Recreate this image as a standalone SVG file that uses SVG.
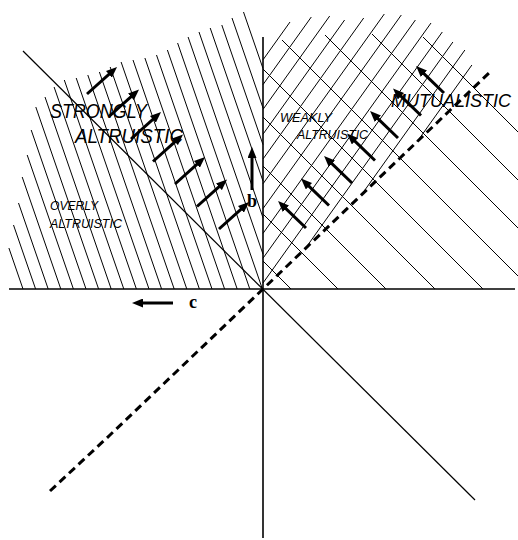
<svg xmlns="http://www.w3.org/2000/svg" width="518" height="540" viewBox="0 0 518 540">
<style>
.h{stroke:#000;stroke-width:1;fill:none}
.ax{stroke:#000;stroke-width:1.6;fill:none}
.dg{stroke:#000;stroke-width:1.2;fill:none}
.dash{stroke:#000;stroke-width:3;stroke-dasharray:8 5;fill:none}
.arr{stroke:#000;stroke-width:3;fill:none;marker-end:url(#ah)}
.lbl{font-family:"Liberation Sans",Arial,sans-serif;font-style:italic;fill:#000}
.big{font-size:20px}
.sm{font-size:13px}
.var{font-family:"Liberation Serif","Times New Roman",serif;font-weight:bold;font-size:18px;fill:#000}
</style>
<defs>
<marker id="ah" viewBox="0 0 11 9" refX="3" refY="4.5" markerWidth="11" markerHeight="9" markerUnits="userSpaceOnUse" orient="auto">
<path d="M0,0 L11,4.5 L0,9 z" fill="#000"/>
</marker>
</defs>
<rect width="518" height="540" fill="#fff"/>

<g id="hatch-altruistic">
<line class="h" x1="8.9" y1="248" x2="23" y2="289"/>
<line class="h" x1="13.5" y1="225" x2="35.6" y2="289"/>
<line class="h" x1="18.5" y1="203" x2="48.2" y2="289"/>
<line class="h" x1="22.2" y1="177" x2="60.8" y2="289"/>
<line class="h" x1="27.2" y1="155" x2="73.4" y2="289"/>
<line class="h" x1="31.2" y1="130" x2="86" y2="289"/>
<line class="h" x1="35.8" y1="107" x2="98.6" y2="289"/>
<line class="h" x1="45" y1="97" x2="111.2" y2="289"/>
<line class="h" x1="54.1" y1="87" x2="123.8" y2="289"/>
<line class="h" x1="64.3" y1="80" x2="136.4" y2="289"/>
<line class="h" x1="76.2" y1="78" x2="149" y2="289"/>
<line class="h" x1="87.8" y1="75" x2="161.6" y2="289"/>
<line class="h" x1="99.4" y1="72" x2="174.2" y2="289"/>
<line class="h" x1="110.2" y1="67" x2="186.8" y2="289"/>
<line class="h" x1="121.1" y1="62" x2="199.4" y2="289"/>
<line class="h" x1="133" y1="60" x2="212" y2="289"/>
<line class="h" x1="144.9" y1="58" x2="224.6" y2="289"/>
<line class="h" x1="156.5" y1="55" x2="237.2" y2="289"/>
<line class="h" x1="167.4" y1="50" x2="249.8" y2="289"/>
<line class="h" x1="177.6" y1="43" x2="262.4" y2="289"/>
<line class="h" x1="188.1" y1="37" x2="263" y2="254.2"/>
<line class="h" x1="199" y1="32" x2="263" y2="217.7"/>
<line class="h" x1="210.2" y1="28" x2="263" y2="181.1"/>
<line class="h" x1="221.8" y1="25" x2="263" y2="144.6"/>
<line class="h" x1="232" y1="18" x2="263" y2="108"/>
<line class="h" x1="243.5" y1="12" x2="263" y2="68.5"/>
</g>

<g id="hatch-weakly">
<line class="h" x1="290" y1="22" x2="263" y2="59.8"/>
<line class="h" x1="311.3" y1="17" x2="263" y2="84.6"/>
<line class="h" x1="329.7" y1="16" x2="263" y2="109.4"/>
<line class="h" x1="344.6" y1="20" x2="263" y2="134.2"/>
<line class="h" x1="363.7" y1="18" x2="263" y2="159"/>
<line class="h" x1="384.3" y1="14" x2="263" y2="183.8"/>
<line class="h" x1="401.3" y1="15" x2="263" y2="208.6"/>
<line class="h" x1="415.4" y1="20" x2="263" y2="233.4"/>
<line class="h" x1="431" y1="23" x2="263" y2="258.2"/>
<line class="h" x1="442.3" y1="32" x2="263" y2="283"/>
<line class="h" x1="452.9" y1="42" x2="305.4" y2="248.4"/>
<line class="h" x1="464.9" y1="50" x2="361.3" y2="195"/>
<line class="h" x1="471.9" y1="65" x2="417.1" y2="141.7"/>
</g>

<g id="hatch-mutualistic">
<line class="h" x1="263" y1="261" x2="291" y2="289"/>
<line class="h" x1="263" y1="214" x2="338" y2="289"/>
<line class="h" x1="263" y1="166" x2="386" y2="289"/>
<line class="h" x1="263" y1="117" x2="435" y2="289"/>
<line class="h" x1="263" y1="69" x2="483" y2="289"/>
<line class="h" x1="282" y1="40" x2="518" y2="276"/>
<line class="h" x1="325" y1="35" x2="518" y2="228"/>
<line class="h" x1="372" y1="34" x2="518" y2="180"/>
<line class="h" x1="423" y1="37" x2="518" y2="132"/>
</g>

<g id="axes">
<line class="ax" x1="9" y1="289" x2="515" y2="289"/>
<line class="ax" x1="263" y1="37" x2="263" y2="538"/>
<line class="dg" x1="23" y1="51" x2="475" y2="500"/>
<polyline class="dash" points="50,491 110,435 263,289 490,72"/>
</g>

<g id="arrows">
<line class="arr" x1="87" y1="94" x2="111.1" y2="72.3"/>
<line class="arr" x1="109" y1="116.5" x2="133.1" y2="94.8"/>
<line class="arr" x1="131" y1="139" x2="155.1" y2="117.3"/>
<line class="arr" x1="153" y1="161.5" x2="177.1" y2="139.8"/>
<line class="arr" x1="175" y1="184" x2="199.1" y2="162.3"/>
<line class="arr" x1="197" y1="206.5" x2="221.1" y2="184.8"/>
<line class="arr" x1="219" y1="229" x2="243.1" y2="207.3"/>
<line class="arr" x1="306" y1="228" x2="283.8" y2="206.6"/>
<line class="arr" x1="329" y1="205.5" x2="306.8" y2="184.1"/>
<line class="arr" x1="352" y1="183" x2="329.8" y2="161.6"/>
<line class="arr" x1="375" y1="160.5" x2="352.8" y2="139.1"/>
<line class="arr" x1="398" y1="138" x2="375.8" y2="116.6"/>
<line class="arr" x1="421" y1="115.5" x2="398.8" y2="94.1"/>
<line class="arr" x1="444" y1="93" x2="421.8" y2="71.6"/>
<line class="arr" x1="252" y1="190" x2="252" y2="155"/>
<line class="arr" x1="173" y1="303" x2="140" y2="303"/>
</g>

<g id="labels">
<text class="lbl big" x="50" y="118" textLength="97" lengthAdjust="spacingAndGlyphs">STRONGLY</text>
<text class="lbl big" x="75" y="143" textLength="108" lengthAdjust="spacingAndGlyphs">ALTRUISTIC</text>
<text class="lbl sm" x="50" y="210" textLength="48" lengthAdjust="spacingAndGlyphs">OVERLY</text>
<text class="lbl sm" x="50" y="228" textLength="72" lengthAdjust="spacingAndGlyphs">ALTRUISTIC</text>
<text class="lbl sm" x="280" y="122" textLength="52" lengthAdjust="spacingAndGlyphs">WEAKLY</text>
<text class="lbl sm" x="297" y="139" textLength="71" lengthAdjust="spacingAndGlyphs">ALTRUISTIC</text>
<text class="lbl" x="391" y="107" font-size="18.5" textLength="120" lengthAdjust="spacingAndGlyphs">MUTUALISTIC</text>
<text class="var" x="247" y="207">b</text>
<text class="var" x="189" y="308">c</text>
</g>
</svg>
